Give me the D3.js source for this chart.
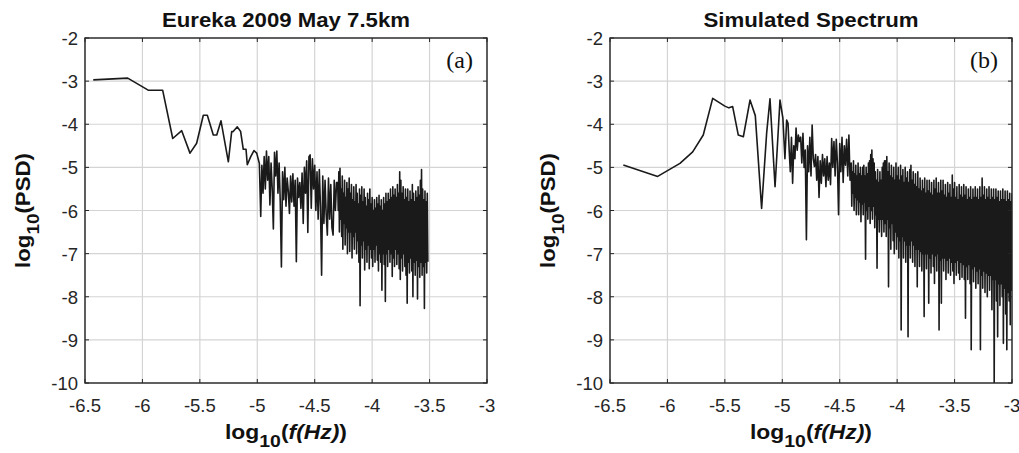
<!DOCTYPE html>
<html><head><meta charset="utf-8">
<script src="https://cdn.jsdelivr.net/npm/d3@7"></script>
<style>body{margin:0;background:#fff;} svg{display:block;}</style>
</head><body><svg id="c" width="1019" height="453"></svg>
<script>
// ---- data ----
const xTicks = [-6.5, -6, -5.5, -5, -4.5, -4, -3.5, -3];
const yTicks = [-2, -3, -4, -5, -6, -7, -8, -9, -10];
const panelTitles = ["Eureka 2009 May 7.5km", "Simulated Spectrum"];
const panelTags = ["(a)", "(b)"];
const xLabelParts = ["log", "10", "(", "f(Hz)", ")"];
const yLabelParts = ["log", "10", "(PSD)"];

// [log10(f), log10(PSD)]
const eurekaSpectrum = [
[-6.428,-2.97],[-6.128,-2.93],[-5.95,-3.21],[-5.824,-3.21],[-5.736,-4.33],[-5.658,-4.15],[-5.586,-4.67],[-5.528,-4.44],[-5.47,-3.79],[-5.435,-3.79],[-5.383,-4.25],[-5.353,-4.25],[-5.316,-3.92],[-5.252,-4.87],[-5.223,-4.17],[-5.21,-4.17],[-5.174,-4.06],[-5.145,-4.17],[-5.122,-4.58],[-5.098,-4.58],[-5.087,-4.94],[-5.057,-4.75],[-5.029,-4.61],[-5.005,-4.67],[-4.982,-4.91],
[-4.97,-6.14],[-4.96,-4.95],[-4.95,-5.6],[-4.94,-4.75],[-4.93,-5.5],[-4.92,-4.62],[-4.91,-5.3],[-4.9,-4.75],[-4.89,-5.87],[-4.88,-4.9],[-4.87,-5.5],[-4.86,-6.43],[-4.85,-4.65],[-4.84,-5.2],[-4.83,-4.62],[-4.82,-5.6],[-4.81,-4.9],[-4.8,-5.8],[-4.79,-7.31],[-4.78,-5.1],[-4.77,-5.75],[-4.76,-5.0],[-4.75,-5.9],[-4.74,-5.25],[-4.73,-5.55],[-4.72,-6.07],[-4.71,-5.2],[-4.7,-5.8],[-4.69,-5.15],[-4.68,-5.9],[-4.67,-5.3],[-4.66,-7.19],[-4.65,-5.25],[-4.64,-5.7],[-4.63,-5.35],[-4.62,-5.95],[-4.61,-5.13],[-4.6,-6.3],[-4.59,-5.0],[-4.58,-5.6],[-4.57,-4.85],[-4.56,-6.51],[-4.55,-4.75],[-4.54,-4.71],[-4.53,-5.95],[-4.52,-4.8],[-4.51,-5.5],[-4.5,-4.95],[-4.49,-6.0],[-4.48,-5.1],[-4.47,-6.2],[-4.46,-5.05],[-4.45,-5.9],[-4.44,-7.5],[-4.43,-5.2],[-4.42,-6.3],[-4.41,-5.3],[-4.4,-6.1],[-4.39,-6.57],[-4.38,-5.25],[-4.37,-6.2],[-4.36,-5.4],[-4.35,-6.4],[-4.34,-6.57],[-4.33,-5.3],[-4.32,-6.0],[-4.31,-5.35],
[-4.300,-5.35],[-4.295,-6.0],[-4.290,-5.1],[-4.285,-6.5],[-4.280,-5.02],[-4.275,-6.2],[-4.270,-5.5],[-4.265,-6.6],[-4.260,-5.2],[-4.255,-6.9],[-4.250,-5.6],[-4.245,-6.3],[-4.240,-5.3],[-4.235,-6.8],[-4.230,-5.7],[-4.225,-6.4],[-4.220,-5.35],[-4.215,-7.0],[-4.210,-5.5],[-4.205,-6.5],
[-4.200,-5.25],[-4.195,-6.95],[-4.190,-5.6],[-4.185,-6.5],[-4.180,-5.4],[-4.175,-7.1],[-4.170,-5.75],[-4.165,-6.6],[-4.160,-5.45],[-4.155,-6.9],[-4.150,-5.8],[-4.145,-6.5],[-4.140,-5.4],[-4.135,-7.0],[-4.130,-5.6],[-4.125,-6.7],[-4.120,-5.85],[-4.115,-7.2],[-4.110,-5.5],[-4.105,-8.21],
[-4.100,-5.65],[-4.095,-6.8],[-4.090,-5.45],[-4.085,-7.1],[-4.080,-5.8],[-4.075,-6.7],[-4.070,-5.5],[-4.065,-7.38],[-4.060,-5.7],[-4.055,-6.9],[-4.050,-5.9],[-4.045,-7.2],[-4.040,-5.6],[-4.035,-6.8],[-4.030,-5.75],[-4.025,-7.35],[-4.020,-5.5],[-4.015,-6.9],[-4.010,-5.85],[-4.005,-7.1],
[-4.000,-5.7],[-3.995,-7.3],[-3.990,-6.0],[-3.985,-6.9],[-3.980,-5.75],[-3.975,-7.2],[-3.970,-5.95],[-3.965,-6.8],[-3.960,-5.7],[-3.955,-7.15],[-3.950,-5.85],[-3.945,-7.4],[-3.940,-5.65],[-3.935,-7.0],[-3.930,-5.9],[-3.925,-7.2],[-3.920,-5.75],[-3.915,-7.85],[-3.910,-6.0],[-3.905,-7.0],
[-3.900,-5.7],[-3.895,-7.25],[-3.890,-5.85],[-3.885,-8.11],[-3.880,-5.6],[-3.875,-7.0],[-3.870,-5.8],[-3.865,-7.3],[-3.860,-5.6],[-3.855,-6.9],[-3.850,-5.75],[-3.845,-7.2],[-3.840,-5.5],[-3.835,-7.0],[-3.830,-5.7],[-3.825,-7.53],[-3.820,-5.45],[-3.815,-7.1],[-3.810,-5.65],[-3.805,-7.3],
[-3.800,-5.5],[-3.795,-6.9],[-3.790,-5.7],[-3.785,-7.25],[-3.780,-5.4],[-3.775,-7.0],[-3.770,-5.6],[-3.765,-7.35],[-3.760,-5.1],[-3.755,-7.6],[-3.750,-5.3],[-3.745,-7.1],[-3.740,-5.6],[-3.735,-7.4],[-3.730,-5.45],[-3.725,-7.0],[-3.720,-5.75],[-3.715,-7.3],[-3.710,-5.5],[-3.705,-7.5],
[-3.700,-5.7],[-3.695,-8.15],[-3.690,-5.5],[-3.685,-7.2],[-3.680,-5.8],[-3.675,-7.45],[-3.670,-5.55],[-3.665,-7.1],[-3.660,-5.75],[-3.655,-7.4],[-3.650,-5.4],[-3.645,-8.0],[-3.640,-5.6],[-3.635,-7.2],[-3.630,-5.8],[-3.625,-7.5],[-3.620,-5.55],[-3.615,-7.15],[-3.610,-5.7],[-3.605,-8.05],
[-3.600,-5.45],[-3.595,-7.3],[-3.590,-5.65],[-3.585,-7.55],[-3.580,-5.3],[-3.575,-7.2],[-3.570,-5.05],[-3.565,-7.5],[-3.560,-5.5],[-3.555,-7.3],[-3.550,-5.75],[-3.545,-8.27],[-3.540,-5.55],[-3.535,-7.2],[-3.530,-5.8],[-3.525,-7.45],[-3.520,-5.6],[-3.515,-7.19]
];

const simulatedSpectrum = [
[-6.384,-4.945],[-6.085,-5.21],[-5.891,-4.906],[-5.78,-4.64],[-5.688,-4.25],[-5.606,-3.4],[-5.5,-3.58],[-5.465,-3.62],[-5.432,-3.59],[-5.383,-4.25],[-5.339,-4.29],[-5.281,-3.44],[-5.235,-3.8],[-5.18,-5.95],[-5.136,-4.2],[-5.107,-3.41],[-5.063,-5.45],[-5.02,-3.44],[-4.995,-3.85],[-4.977,-4.8],[-4.962,-3.9],
[-4.95,-3.98],[-4.94,-4.6],[-4.93,-5.1],[-4.92,-4.3],[-4.91,-5.37],[-4.9,-4.5],[-4.89,-4.8],[-4.88,-4.09],[-4.87,-4.6],[-4.86,-4.25],[-4.85,-4.4],[-4.84,-4.3],[-4.83,-4.9],[-4.82,-4.21],[-4.81,-5.0],[-4.8,-4.6],[-4.79,-6.68],[-4.78,-4.5],[-4.77,-5.1],[-4.76,-4.3],[-4.75,-5.2],[-4.74,-4.02],[-4.73,-4.8],[-4.72,-4.98],[-4.71,-4.7],[-4.7,-5.3],[-4.69,-4.75],[-4.68,-5.7],[-4.67,-4.85],[-4.66,-5.37],[-4.65,-4.7],[-4.64,-5.2],[-4.63,-4.8],[-4.62,-5.45],[-4.61,-4.75],[-4.6,-5.3],[-4.59,-4.9],[-4.58,-5.4],[-4.57,-4.33],[-4.56,-5.0],[-4.55,-4.4],[-4.54,-5.2],[-4.53,-4.35],[-4.52,-4.9],[-4.51,-6.1],[-4.5,-4.45],[-4.49,-5.1],[-4.48,-4.3],[-4.47,-5.35],[-4.46,-4.5],[-4.45,-4.95],[-4.44,-4.35],[-4.43,-5.2],[-4.42,-4.25],[-4.41,-5.3],
[-4.400,-4.9],[-4.395,-5.9],[-4.390,-5.1],[-4.385,-5.6],[-4.380,-4.85],[-4.375,-6.0],[-4.370,-5.15],[-4.365,-5.7],[-4.360,-4.95],[-4.355,-6.1],[-4.350,-5.2],[-4.345,-5.75],[-4.340,-4.9],[-4.335,-6.1],[-4.330,-5.15],[-4.325,-5.8],[-4.320,-5.0],[-4.315,-6.26],[-4.310,-5.2],[-4.305,-5.85],
[-4.300,-5.0],[-4.295,-6.1],[-4.290,-4.95],[-4.285,-5.8],[-4.280,-5.2],[-4.275,-7.13],[-4.270,-5.0],[-4.265,-6.0],[-4.260,-5.15],[-4.255,-6.2],[-4.250,-4.9],[-4.245,-5.9],[-4.240,-4.85],[-4.235,-6.3],[-4.230,-4.7],[-4.225,-6.0],[-4.220,-4.6],[-4.215,-6.2],[-4.210,-4.8],[-4.205,-5.9],
[-4.200,-4.9],[-4.195,-6.4],[-4.190,-5.1],[-4.185,-6.1],[-4.180,-5.3],[-4.175,-7.34],[-4.170,-5.05],[-4.165,-6.2],[-4.160,-5.35],[-4.155,-6.5],[-4.150,-5.1],[-4.145,-6.2],[-4.140,-5.3],[-4.135,-6.6],[-4.130,-5.0],[-4.125,-6.2],[-4.120,-4.9],[-4.115,-6.5],[-4.110,-4.85],[-4.105,-6.3],
[-4.100,-4.85],[-4.095,-6.6],[-4.090,-4.75],[-4.085,-6.2],[-4.080,-5.1],[-4.075,-7.77],[-4.070,-4.9],[-4.065,-6.4],[-4.060,-5.2],[-4.055,-6.9],[-4.050,-4.95],[-4.045,-6.3],[-4.040,-5.25],[-4.035,-6.7],[-4.030,-5.0],[-4.025,-7.0],[-4.020,-5.3],[-4.015,-6.5],[-4.010,-4.9],[-4.005,-6.9],
[-4.000,-5.2],[-3.995,-6.6],[-3.990,-5.0],[-3.985,-7.1],[-3.980,-5.3],[-3.975,-6.7],[-3.970,-4.95],[-3.965,-8.77],[-3.960,-5.2],[-3.955,-6.6],[-3.950,-5.05],[-3.945,-7.1],[-3.940,-5.35],[-3.935,-6.7],[-3.930,-5.0],[-3.925,-7.2],[-3.920,-5.25],[-3.915,-6.8],[-3.910,-5.1],[-3.905,-8.93],
[-3.900,-5.35],[-3.895,-6.8],[-3.890,-5.05],[-3.885,-7.1],[-3.880,-4.95],[-3.875,-6.7],[-3.870,-5.3],[-3.865,-7.2],[-3.860,-5.1],[-3.855,-6.8],[-3.850,-5.4],[-3.845,-7.3],[-3.840,-5.15],[-3.835,-6.9],[-3.830,-5.45],[-3.825,-7.77],[-3.820,-5.1],[-3.815,-6.9],[-3.810,-5.5],[-3.805,-7.3],
[-3.800,-5.25],[-3.795,-6.95],[-3.790,-5.55],[-3.785,-7.4],[-3.780,-5.3],[-3.775,-7.0],[-3.770,-5.5],[-3.765,-8.46],[-3.760,-5.25],[-3.755,-7.0],[-3.750,-5.6],[-3.745,-7.35],[-3.740,-5.3],[-3.735,-7.0],[-3.730,-5.55],[-3.725,-8.15],[-3.720,-5.3],[-3.715,-7.1],[-3.710,-5.6],[-3.705,-7.45],
[-3.700,-5.35],[-3.695,-7.0],[-3.690,-5.65],[-3.685,-7.3],[-3.680,-5.3],[-3.675,-7.69],[-3.670,-5.5],[-3.665,-7.05],[-3.660,-5.25],[-3.655,-7.4],[-3.650,-5.6],[-3.645,-7.0],[-3.640,-5.35],[-3.635,-8.77],[-3.630,-5.6],[-3.625,-7.15],[-3.620,-5.3],[-3.615,-8.15],[-3.610,-5.55],[-3.605,-7.1],
[-3.600,-5.3],[-3.595,-7.4],[-3.590,-5.65],[-3.585,-7.1],[-3.580,-5.4],[-3.575,-7.6],[-3.570,-5.7],[-3.565,-7.15],[-3.560,-5.35],[-3.555,-7.45],[-3.550,-5.6],[-3.545,-7.1],[-3.540,-5.4],[-3.535,-7.5],[-3.530,-5.7],[-3.525,-7.2],[-3.520,-5.18],[-3.515,-7.4],[-3.510,-5.5],[-3.505,-7.69],
[-3.500,-5.35],[-3.495,-7.2],[-3.490,-5.7],[-3.485,-7.5],[-3.480,-5.45],[-3.475,-7.15],[-3.470,-5.75],[-3.465,-7.45],[-3.460,-5.4],[-3.455,-7.6],[-3.450,-5.65],[-3.445,-7.2],[-3.440,-5.45],[-3.435,-7.55],[-3.430,-5.7],[-3.425,-7.25],[-3.420,-5.4],[-3.415,-7.6],[-3.410,-5.65],[-3.405,-8.5],
[-3.400,-5.45],[-3.395,-7.3],[-3.390,-5.75],[-3.385,-7.6],[-3.380,-5.5],[-3.375,-7.25],[-3.370,-5.7],[-3.365,-7.7],[-3.360,-5.45],[-3.355,-9.23],[-3.350,-5.75],[-3.345,-7.35],[-3.340,-5.5],[-3.335,-7.65],[-3.330,-5.7],[-3.325,-7.3],[-3.320,-5.45],[-3.315,-7.8],[-3.310,-5.7],[-3.305,-7.4],
[-3.300,-5.5],[-3.295,-7.7],[-3.290,-5.75],[-3.285,-7.35],[-3.280,-5.45],[-3.275,-9.23],[-3.270,-5.7],[-3.265,-7.5],[-3.260,-5.25],[-3.255,-7.8],[-3.250,-5.65],[-3.245,-7.4],[-3.240,-5.45],[-3.235,-7.9],[-3.230,-5.75],[-3.225,-7.45],[-3.220,-5.5],[-3.215,-8.0],[-3.210,-5.7],[-3.205,-7.5],
[-3.200,-5.45],[-3.195,-7.85],[-3.190,-5.75],[-3.185,-7.5],[-3.180,-5.5],[-3.175,-8.3],[-3.170,-5.7],[-3.165,-7.6],[-3.160,-5.5],[-3.155,-10.0],[-3.150,-5.75],[-3.145,-7.6],[-3.140,-5.5],[-3.135,-8.1],[-3.130,-5.7],[-3.125,-8.93],[-3.120,-5.55],[-3.115,-7.7],[-3.110,-5.8],[-3.105,-8.2],
[-3.100,-5.55],[-3.095,-7.7],[-3.090,-5.75],[-3.085,-8.0],[-3.080,-5.5],[-3.075,-9.08],[-3.070,-5.75],[-3.065,-7.8],[-3.060,-5.55],[-3.055,-8.4],[-3.050,-5.8],[-3.045,-9.23],[-3.040,-5.55],[-3.035,-7.9],[-3.030,-5.75],[-3.025,-8.1],[-3.020,-5.6],[-3.015,-8.65],[-3.010,-5.8],[-3.005,-7.85],
[-3.000,-5.6]
];

// ---- drawing ----
const svg = d3.select("#c");
svg.append("rect").attr("width",1019).attr("height",453).attr("fill","#fff");
const plotTop = 38, plotBottom = 383;
const panels = [
  {left:85, right:487, data:eurekaSpectrum, title:panelTitles[0], tag:panelTags[0], titleLen:248},
  {left:610, right:1012, data:simulatedSpectrum, title:panelTitles[1], tag:panelTags[1], titleLen:215}
];
const FONT = "'Liberation Sans', Arial, Helvetica, sans-serif";

panels.forEach((p, i) => {
  const x = d3.scaleLinear().domain([-6.5, -3]).range([p.left, p.right]);
  const y = d3.scaleLinear().domain([-10, -2]).range([plotBottom, plotTop]);
  const g = svg.append("g");
  const cx = (p.left + p.right) / 2;

  // grid
  g.selectAll(".gx").data(xTicks).enter().append("line")
    .attr("x1", d => x(d)).attr("x2", d => x(d)).attr("y1", plotTop).attr("y2", plotBottom)
    .attr("stroke", "#d4d4d4").attr("stroke-width", 1.2);
  g.selectAll(".gy").data(yTicks).enter().append("line")
    .attr("y1", d => y(d)).attr("y2", d => y(d)).attr("x1", p.left).attr("x2", p.right)
    .attr("stroke", "#d4d4d4").attr("stroke-width", 1.2);

  // data line
  const clipId = "clip" + i;
  svg.append("clipPath").attr("id", clipId).append("rect")
    .attr("x", p.left).attr("y", plotTop).attr("width", p.right - p.left).attr("height", plotBottom - plotTop);
  const line = d3.line().x(d => x(d[0])).y(d => y(d[1]));
  g.append("path").datum(p.data).attr("d", line).attr("clip-path", `url(#${clipId})`)
    .attr("fill", "none").attr("stroke", "#1a1a1a").attr("stroke-width", 1.6).attr("stroke-linejoin", "round");

  // box
  g.append("rect").attr("x", p.left).attr("y", plotTop).attr("width", p.right - p.left).attr("height", plotBottom - plotTop)
    .attr("fill", "none").attr("stroke", "#262626").attr("stroke-width", 1.4);
  // inward ticks
  const tl = 4;
  xTicks.forEach(t => {
    g.append("line").attr("x1", x(t)).attr("x2", x(t)).attr("y1", plotBottom).attr("y2", plotBottom - tl).attr("stroke", "#262626");
    g.append("line").attr("x1", x(t)).attr("x2", x(t)).attr("y1", plotTop).attr("y2", plotTop + tl).attr("stroke", "#262626");
  });
  yTicks.forEach(t => {
    g.append("line").attr("y1", y(t)).attr("y2", y(t)).attr("x1", p.left).attr("x2", p.left + tl).attr("stroke", "#262626");
    g.append("line").attr("y1", y(t)).attr("y2", y(t)).attr("x1", p.right).attr("x2", p.right - tl).attr("stroke", "#262626");
  });

  // tick labels
  g.selectAll(".xl").data(xTicks).enter().append("text")
    .attr("x", d => x(d)).attr("y", 412).attr("text-anchor", "middle")
    .attr("font-family", FONT).attr("font-size", 18.5).attr("fill", "#262626").text(d => String(d));
  g.selectAll(".yl").data(yTicks).enter().append("text")
    .attr("x", p.left - 7).attr("y", d => y(d) + 7).attr("text-anchor", "end")
    .attr("font-family", FONT).attr("font-size", 18.5).attr("fill", "#262626").text(d => String(d));

  // title
  g.append("text").attr("x", cx).attr("y", 27).attr("text-anchor", "middle")
    .attr("font-family", FONT).attr("font-weight", "bold").attr("font-size", 19.5).attr("fill", "#111")
    .attr("textLength", p.titleLen).attr("lengthAdjust", "spacingAndGlyphs").text(p.title);

  // tag
  g.append("text").attr("x", p.right - 14).attr("y", 68).attr("text-anchor", "end")
    .attr("font-family", "'Liberation Serif', 'Times New Roman', serif").attr("font-size", 24).attr("fill", "#111")
    .text(p.tag);

  // x label
  const xl = g.append("text").attr("x", cx).attr("y", 439).attr("text-anchor", "middle")
    .attr("font-family", FONT).attr("font-weight", "bold").attr("font-size", 20).attr("fill", "#111")
    .attr("textLength", 122).attr("lengthAdjust", "spacingAndGlyphs");
  xl.append("tspan").text(xLabelParts[0]);
  xl.append("tspan").attr("dy", 8).attr("font-size", 17).text(xLabelParts[1]);
  xl.append("tspan").attr("dy", -8).text(xLabelParts[2]);
  xl.append("tspan").attr("font-style", "italic").text(xLabelParts[3]);
  xl.append("tspan").text(xLabelParts[4]);

  // y label
  const yl = g.append("text").attr("transform", `translate(${p.left - 55},${(plotTop + plotBottom) / 2}) rotate(-90)`)
    .attr("text-anchor", "middle")
    .attr("font-family", FONT).attr("font-weight", "bold").attr("font-size", 20).attr("fill", "#111")
    .attr("textLength", 115).attr("lengthAdjust", "spacingAndGlyphs");
  yl.append("tspan").text(yLabelParts[0]);
  yl.append("tspan").attr("dy", 9).attr("font-size", 17).text(yLabelParts[1]);
  yl.append("tspan").attr("dy", -9).text(yLabelParts[2]);
});
</script>
</body></html>
